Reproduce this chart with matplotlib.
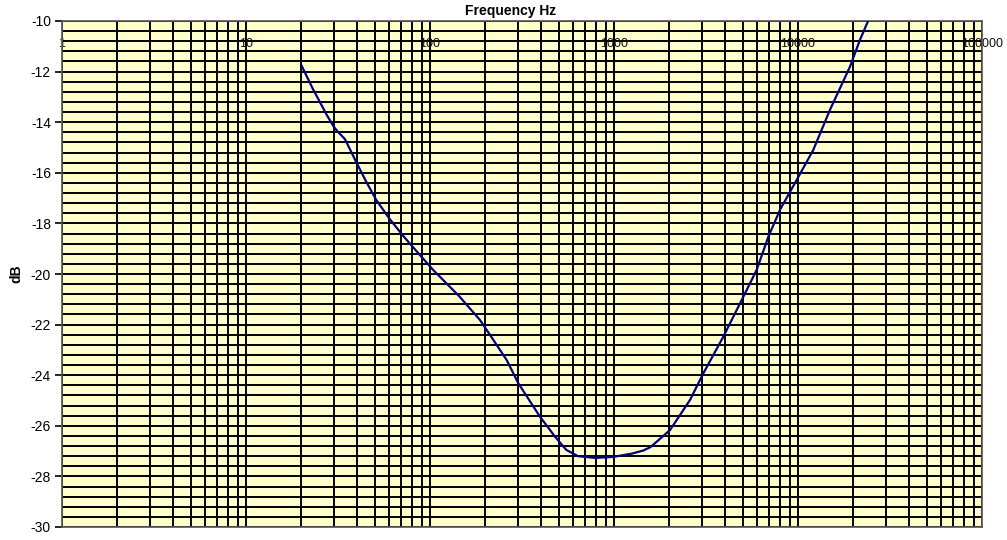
import numpy as np
import matplotlib
matplotlib.use("Agg")
import matplotlib.pyplot as plt
from matplotlib.ticker import MultipleLocator, LogLocator, NullFormatter
import matplotlib.transforms as mtransforms

plt.rcParams["font.family"] = ["Liberation Sans", "DejaVu Sans"]

freq_hz = [20, 23, 27.5, 30, 31.5, 34.5, 40, 45, 51, 60, 72, 85, 104, 128, 145,
           187, 212, 261, 302, 396, 478, 550, 637, 788, 988, 1250, 1438,
           1580, 2015, 2588, 3057, 3926, 4842, 5961, 6897, 8000, 9840, 12100,
           14900, 19180, 21700, 24600]
level_db = [-11.75, -12.66, -13.72, -14.18, -14.37, -14.67, -15.62, -16.35, -17.07,
            -17.80, -18.52, -19.12, -19.84, -20.50, -20.90, -21.82, -22.41,
            -23.40, -24.32, -25.64, -26.43, -26.95, -27.2, -27.27, -27.23, -27.1,
            -26.98, -26.84, -26.17, -24.98, -23.93, -22.48, -21.16, -19.84, -18.53,
            -17.45, -16.28, -15.10, -13.52, -11.80, -10.75, -9.83]

decade_labels = ["1", "10", "100", "1000", "10000", "100000"]
decade_vals = [1, 10, 100, 1000, 10000, 100000]

fig = plt.figure(figsize=(10.07, 5.4), dpi=100, facecolor="white")
ax = fig.add_axes([62 / 1007, 1 - 527 / 540, 920 / 1007, 506 / 540])
ax.set_facecolor("#FFFFCC")

ax.plot(freq_hz, level_db, color="#000080", linewidth=1.6, zorder=4)

ax.set_xscale("log")
ax.set_xlim(1, 100000)
ax.set_ylim(-30, -10)

ax.xaxis.set_major_locator(LogLocator(base=10, numticks=10))
ax.xaxis.set_minor_locator(LogLocator(base=10, subs=np.arange(2, 10), numticks=100))
ax.xaxis.set_major_formatter(NullFormatter())
ax.xaxis.set_minor_formatter(NullFormatter())
ax.tick_params(axis="x", which="both", length=0)

ax.yaxis.set_major_locator(MultipleLocator(2))
ax.yaxis.set_minor_locator(MultipleLocator(0.4))
ax.tick_params(axis="y", which="major", direction="out", length=5, width=1.2,
               labelsize=10, pad=3, colors="black")
ax.tick_params(axis="y", which="minor", length=0)
ax.set_yticks(np.arange(-30, -9, 2))
ax.set_yticklabels([f"{v:d}" for v in range(-30, -9, 2)])

ax.grid(True, which="both", axis="both", color="black", linewidth=1.4)

for s in ax.spines.values():
    s.set_color("#555555")
    s.set_linewidth(1.2)

trans = mtransforms.blended_transform_factory(ax.transData, ax.transAxes)
for v, lab in zip(decade_vals, decade_labels):
    ax.text(v, 1 - 23 / 506, lab, transform=trans, ha="center", va="center",
            fontsize=9, color="#111111", zorder=2, clip_on=False)

fig.text(511 / 1007, 1 - 11 / 540, "Frequency Hz", ha="center", va="center",
         fontsize=10, fontweight="bold")
ax.set_ylabel("dB", fontsize=10, fontweight="bold", labelpad=5)

fig.savefig("out.png", dpi=100, facecolor="white")
